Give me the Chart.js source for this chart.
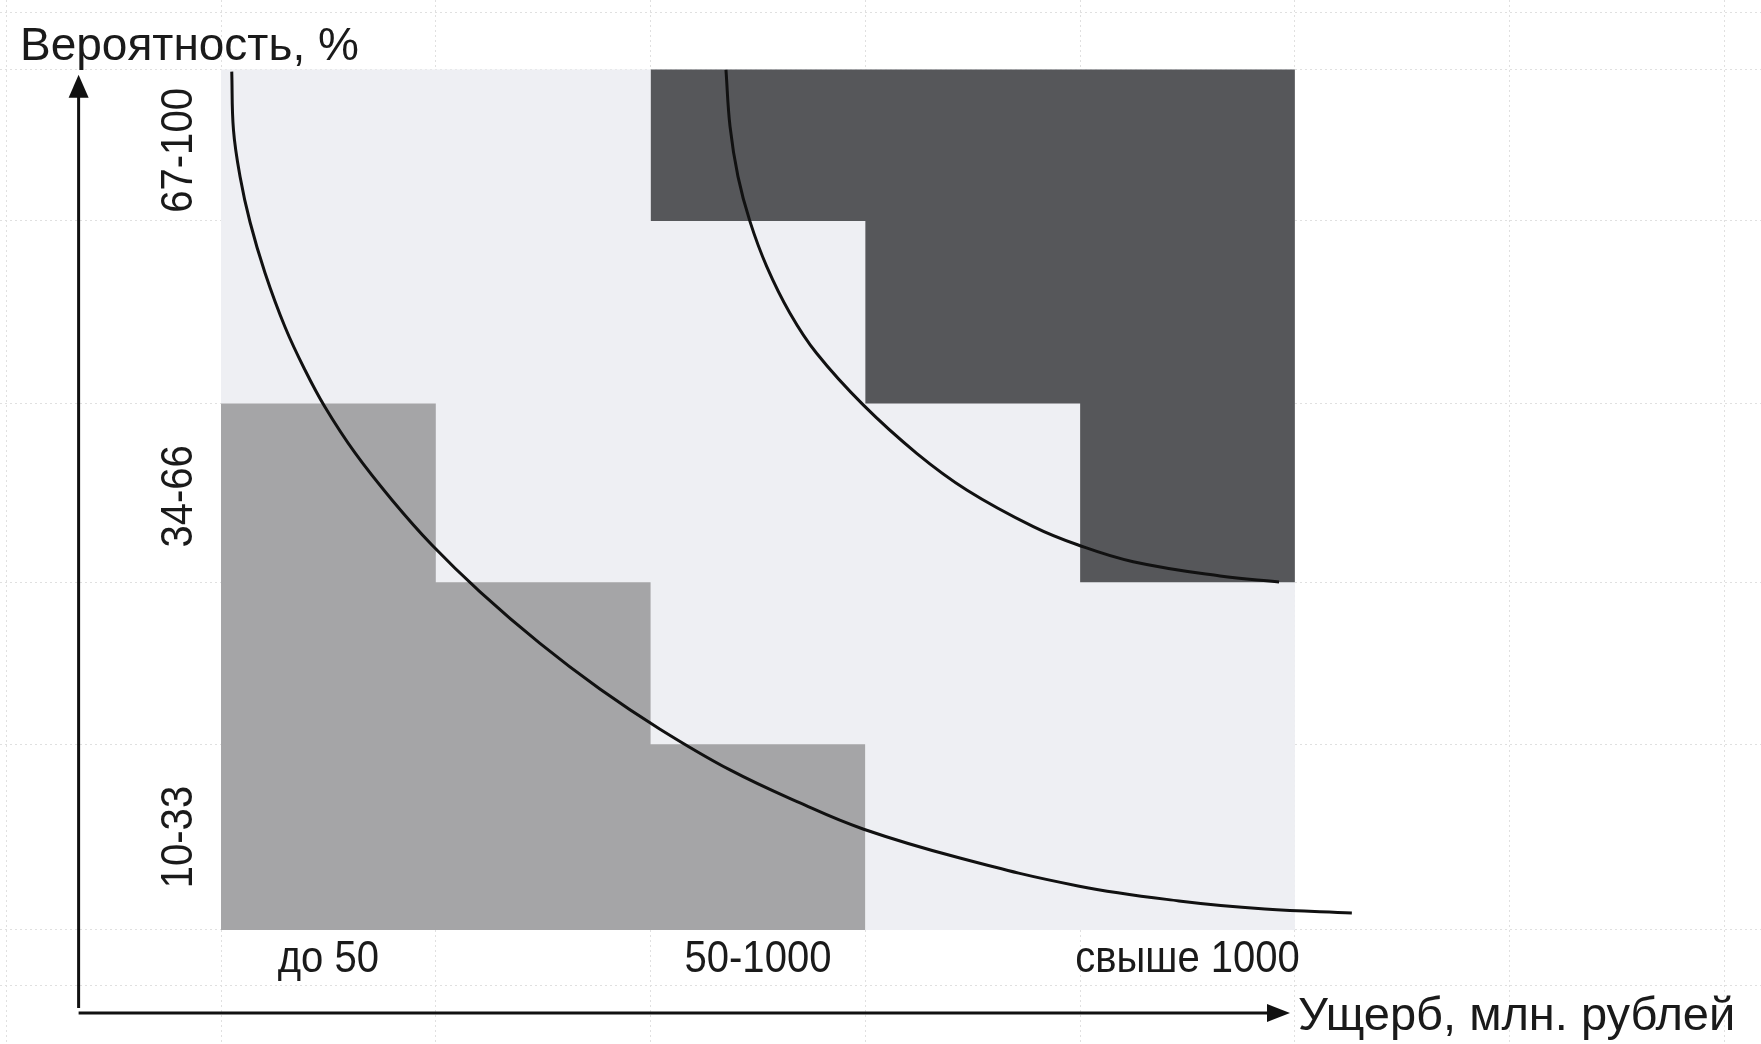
<!DOCTYPE html>
<html><head><meta charset="utf-8">
<script src="https://cdn.jsdelivr.net/npm/chart.js@4.4.1/dist/chart.umd.min.js"></script>
<style>html,body{margin:0;padding:0;background:#fff;overflow:hidden}#wrap{width:1761px;height:1044px}</style>
</head><body><div id="wrap"><canvas id="c" width="1761" height="1044"></canvas></div>
<script>
// ---- data ----
const categories = ['до 50', '50-1000', 'свыше 1000'];
const categoryX = [0.5, 2.5, 4.5];
const probabilityBands = ['10-33', '34-66', '67-100'];
const probabilityY = [0.54, 2.52, 4.53];
const columnEdges = [-1, 0, 1, 2, 3, 4, 5, 6, 7];
const rowEdges = [-0.32, 0, 1.08, 2.02, 3.06, 4.12, 5, 5.33];
const zoneX = [0, 5];
const zoneY = [5, 5];
const moderateX = [0, 1, 2, 3];
const moderateTop = [3.06, 2.02, 1.08, 1.08];
const criticalX = [2, 3, 4, 5];
const criticalBottom = [4.12, 3.06, 2.02, 2.02];
const lowCurveX = [0.050, 0.058, 0.089, 0.135, 0.205, 0.298, 0.391, 0.484, 0.624, 0.796, 0.982, 1.206, 1.485, 1.764, 2.044, 2.370, 2.696, 2.989, 3.440, 3.990, 4.460, 4.860, 5.265];
const lowCurveY = [4.988, 4.649, 4.376, 4.114, 3.818, 3.504, 3.254, 3.039, 2.772, 2.499, 2.237, 1.965, 1.665, 1.400, 1.167, 0.930, 0.738, 0.587, 0.418, 0.256, 0.169, 0.122, 0.099];
const highCurveX = [2.351, 2.370, 2.407, 2.463, 2.541, 2.649, 2.773, 2.990, 3.239, 3.472, 3.782, 3.991, 4.247, 4.651, 4.926];
const highCurveY = [4.998, 4.668, 4.378, 4.116, 3.855, 3.584, 3.351, 3.051, 2.770, 2.557, 2.344, 2.237, 2.140, 2.057, 2.022];
const yAxisTitle = 'Вероятность, %';
const xAxisTitle = 'Ущерб, млн. рублей';

// ---- layout / style ----
const X_MIN = -1.029, X_MAX = 7.17, Y_MIN = -0.6625, Y_MAX = 5.404;
const AXIS_X0 = -0.663, AXIS_Y0 = -0.482, Y_TIP = 4.969, X_TIP = 4.977;
const FONT = '"Liberation Sans", Arial, sans-serif';

const pts = (xs, ys) => xs.map((x, i) => ({x, y: ys[i]}));

function condensedText(ctx, text, x, y, rot) {
  ctx.save();
  ctx.translate(x, y);
  if (rot) ctx.rotate(rot);
  ctx.scale(0.91, 1);
  ctx.fillText(text, 0, 0);
  ctx.restore();
}

const axesPlugin = {
  id: 'axesText',
  afterDatasetsDraw(chart) {
    const ctx = chart.ctx, xs = chart.scales.x, ys = chart.scales.y;
    const X = v => xs.getPixelForValue(v), Y = v => ys.getPixelForValue(v);
    ctx.save();
    ctx.strokeStyle = '#111'; ctx.fillStyle = '#111'; ctx.lineWidth = 3;
    const ox = X(AXIS_X0), oy = Y(AXIS_Y0), ty = Y(Y_TIP), tx = X(X_TIP);
    ctx.beginPath(); ctx.moveTo(ox, oy - 5); ctx.lineTo(ox, ty + 18); ctx.stroke();
    ctx.beginPath(); ctx.moveTo(ox, ty); ctx.lineTo(ox - 10, ty + 23); ctx.lineTo(ox + 10, ty + 23); ctx.closePath(); ctx.fill();
    ctx.beginPath(); ctx.moveTo(ox, oy); ctx.lineTo(tx - 18, oy); ctx.stroke();
    ctx.beginPath(); ctx.moveTo(tx, oy); ctx.lineTo(tx - 23, oy - 9); ctx.lineTo(tx - 23, oy + 9); ctx.closePath(); ctx.fill();

    ctx.fillStyle = '#1a1a1a';
    ctx.textAlign = 'left'; ctx.textBaseline = 'alphabetic';
    ctx.font = '46px ' + FONT;
    ctx.fillText(yAxisTitle, X(-0.936), Y(5.056));
    ctx.font = '47px ' + FONT;
    ctx.fillText(xAxisTitle, X(5.014), Y(-0.581));

    ctx.font = '44px ' + FONT; ctx.textAlign = 'center'; ctx.textBaseline = 'middle';
    categories.forEach((c, i) => condensedText(ctx, c, X(categoryX[i]), Y(-0.174), 0));
    probabilityBands.forEach((p, i) => condensedText(ctx, p, X(-0.191), Y(probabilityY[i]), -Math.PI / 2));
    ctx.restore();
  }
};

new Chart(document.getElementById('c'), {
  type: 'scatter',
  data: {
    datasets: [
      {label: 'low', data: pts(lowCurveX, lowCurveY), showLine: true, borderColor: '#111', borderWidth: 3,
       pointRadius: 0, tension: 0.4, fill: false, order: 0},
      {label: 'high', data: pts(highCurveX, highCurveY), showLine: true, borderColor: '#111', borderWidth: 3,
       pointRadius: 0, tension: 0.4, fill: false, order: 1},
      {label: 'critical', data: pts(criticalX, criticalBottom), showLine: true, stepped: 'before', borderWidth: 0,
       borderColor: 'rgba(0,0,0,0)', backgroundColor: '#56575a', pointRadius: 0, fill: {value: 5}, order: 2},
      {label: 'moderate', data: pts(moderateX, moderateTop), showLine: true, stepped: 'before', borderWidth: 0,
       borderColor: 'rgba(0,0,0,0)', backgroundColor: '#a5a5a7', pointRadius: 0, fill: {value: 0}, order: 3},
      {label: 'zone', data: pts(zoneX, zoneY), showLine: true, borderWidth: 0,
       borderColor: 'rgba(0,0,0,0)', backgroundColor: '#eeeff3', pointRadius: 0, fill: {value: 0}, order: 4}
    ]
  },
  options: {
    responsive: false, animation: false, events: [],
    layout: {padding: 0},
    plugins: {legend: {display: false}, tooltip: {enabled: false}},
    scales: {
      x: {type: 'linear', min: X_MIN, max: X_MAX,
          afterBuildTicks: s => { s.ticks = columnEdges.map(v => ({value: v})); },
          ticks: {display: false}, grid: {color: '#e0e0e0', lineWidth: 1, drawTicks: false},
          border: {display: false, dash: [2, 3]}, afterFit: s => { s.height = 0; }},
      y: {type: 'linear', min: Y_MIN, max: Y_MAX,
          afterBuildTicks: s => { s.ticks = rowEdges.map(v => ({value: v})); },
          ticks: {display: false}, grid: {color: '#e0e0e0', lineWidth: 1, drawTicks: false},
          border: {display: false, dash: [2, 3]}, afterFit: s => { s.width = 0; }}
    }
  },
  plugins: [axesPlugin]
});
</script></body></html>
